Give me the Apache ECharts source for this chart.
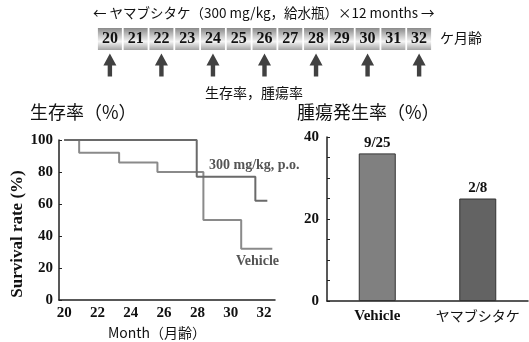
<!DOCTYPE html>
<html><head><meta charset="utf-8">
<script src="https://cdn.jsdelivr.net/npm/echarts@6/dist/echarts.min.js"></script>
<style>html,body{margin:0;padding:0;background:#fff}#c{width:529px;height:342px}</style>
</head><body><div id="c"></div>
<script>
// ---- data ----
const timelineMonths = ['20','21','22','23','24','25','26','27','28','29','30','31','32'];
const arrowMonths = ['20','22','24','26','28','30','32'];
const vehicleSurvival = [[20,100],[20.9,92],[23.3,86],[25.6,80],[28.36,50],[30.63,32],[32.5,32]];
const drugSurvival = [[20,100],[27.96,77],[31.48,62],[32.2,62]];
const survivalXTicks = [20,22,24,26,28,30,32];
const tumorCategories = ['Vehicle','ヤマブシタケ'];
const tumorValues = [36, 25];
const tumorLabels = ['9/25','2/8'];
const tumorColors = ['#808080','#636363'];

const SERIF = '"Liberation Serif", "DejaVu Serif", serif';
const CJK = '"Noto Sans CJK JP", "Noto Sans", sans-serif';

const chart = echarts.init(document.getElementById('c'));
const arrowPath = 'path://M6.5,0 L13,12 L8.7,12 L8.7,23 L4.3,23 L4.3,12 L0,12 Z';

chart.setOption({
  animation: false,
  grid: [
    {left: 59, right: 254, top: 140, bottom: 42},
    {left: 327, right: 1, top: 137, bottom: 41},
    {left: 97, right: 97, top: 28, height: 22},
    {left: 97, right: 97, top: 53, height: 24}
  ],
  xAxis: [
    {gridIndex: 0, type: 'value', min: 19.69, max: 32.66,
     axisLine: {show: true, lineStyle: {color: '#222', width: 1.5}},
     axisTick: {show: false, customValues: survivalXTicks},
     splitLine: {show: false},
     axisLabel: {customValues: survivalXTicks, color: '#111', fontFamily: SERIF, fontWeight: 'bold', fontSize: 15, margin: 6},
     name: 'Month（月齢）', nameLocation: 'middle', nameGap: 26,
     nameTextStyle: {fontFamily: CJK, fontSize: 14, color: '#111', padding: [0, 20, 0, 0]}},
    {gridIndex: 1, type: 'category', data: tumorCategories,
     axisLine: {show: true, lineStyle: {color: '#222', width: 1.5}},
     axisTick: {show: false},
     axisLabel: {interval: 0, hideOverlap: false, margin: 8,
       formatter: v => v === 'Vehicle' ? '{a|' + v + '}' : '{b|' + v + '}',
       rich: {a: {fontFamily: SERIF, fontWeight: 'bold', fontSize: 15, color: '#111'},
              b: {fontFamily: CJK, fontSize: 14, color: '#111'}}}},
    {gridIndex: 2, type: 'category', data: timelineMonths, show: false},
    {gridIndex: 3, type: 'category', data: timelineMonths, show: false}
  ],
  yAxis: [
    {gridIndex: 0, type: 'value', min: 0, max: 100, interval: 20,
     axisLine: {show: true, lineStyle: {color: '#222', width: 1.5}},
     axisTick: {show: true, inside: true, length: 3, lineStyle: {color: '#222'}},
     splitLine: {show: false},
     axisLabel: {color: '#111', fontFamily: SERIF, fontWeight: 'bold', fontSize: 15, margin: 6},
     name: 'Survival rate (%)', nameLocation: 'middle', nameGap: 30, nameRotate: 90,
     nameTextStyle: {fontFamily: SERIF, fontWeight: 'bold', fontSize: 17, color: '#111', padding: [0, 0, 0, -28]}},
    {gridIndex: 1, type: 'value', min: 0, max: 40, interval: 5,
     axisLine: {show: true, lineStyle: {color: '#222', width: 1.5}},
     axisTick: {show: true, inside: true, length: 3, lineStyle: {color: '#222'}},
     splitLine: {show: false},
     axisLabel: {color: '#111', fontFamily: SERIF, fontWeight: 'bold', fontSize: 15, margin: 8,
       formatter: v => (v % 20 === 0 ? String(v) : '')}},
    {gridIndex: 2, type: 'value', min: 0, max: 1, show: false},
    {gridIndex: 3, type: 'value', min: 0, max: 1, show: false}
  ],
  series: [
    {type: 'line', xAxisIndex: 0, yAxisIndex: 0, step: 'end', data: vehicleSurvival,
     symbol: 'none', lineStyle: {color: '#8a8a8a', width: 2}},
    {type: 'line', xAxisIndex: 0, yAxisIndex: 0, step: 'end', data: drugSurvival,
     symbol: 'none', lineStyle: {color: '#6a6a6a', width: 2}},
    {type: 'bar', xAxisIndex: 1, yAxisIndex: 1, barWidth: 37,
     data: tumorValues.map((v, i) => ({value: v, itemStyle: {color: tumorColors[i]}})),
     itemStyle: {borderColor: '#333', borderWidth: 1},
     label: {show: true, position: 'top', distance: 3, fontFamily: SERIF, fontWeight: 'bold', fontSize: 15, color: '#111',
       formatter: p => tumorLabels[p.dataIndex]}},
    {type: 'bar', xAxisIndex: 2, yAxisIndex: 2, barCategoryGap: '7%',
     data: timelineMonths.map(() => 1),
     itemStyle: {color: new echarts.graphic.LinearGradient(0, 0, 0, 1, [
       {offset: 0, color: '#8a8a8a'}, {offset: 0.62, color: '#f4f4f4'}, {offset: 1, color: '#a4a4a4'}])},
     label: {show: true, position: 'inside', fontFamily: SERIF, fontWeight: 'bold', fontSize: 16, color: '#111',
       formatter: p => timelineMonths[p.dataIndex]}},
    {type: 'scatter', xAxisIndex: 3, yAxisIndex: 3, symbol: arrowPath, symbolSize: [13, 23],
     data: arrowMonths.map(m => [m, 0.5]), itemStyle: {color: '#111'}}
  ],
  graphic: [
    {type: 'text', left: 93, top: 6, style: {text: '← ヤマブシタケ（300 mg/kg，給水瓶）×12 months →', font: '13.5px ' + CJK, fill: '#111'}},
    {type: 'text', left: 440, top: 31, style: {text: 'ケ月齢', font: '14px ' + CJK, fill: '#111'}},
    {type: 'text', left: 205, top: 86, style: {text: '生存率，腫瘍率', font: '14px ' + CJK, fill: '#111'}},
    {type: 'text', left: 30, top: 103, style: {text: '生存率（%）', font: '18px ' + CJK, fill: '#111'}},
    {type: 'text', left: 297, top: 103, style: {text: '腫瘍発生率（%）', font: '18px ' + CJK, fill: '#111'}},
    {type: 'text', left: 209, top: 158, style: {text: '300 mg/kg, p.o.', font: 'bold 14px ' + SERIF, fill: '#555'}},
    {type: 'text', left: 236, top: 254, style: {text: 'Vehicle', font: 'bold 14px ' + SERIF, fill: '#555'}}
  ]
});
</script></body></html>
